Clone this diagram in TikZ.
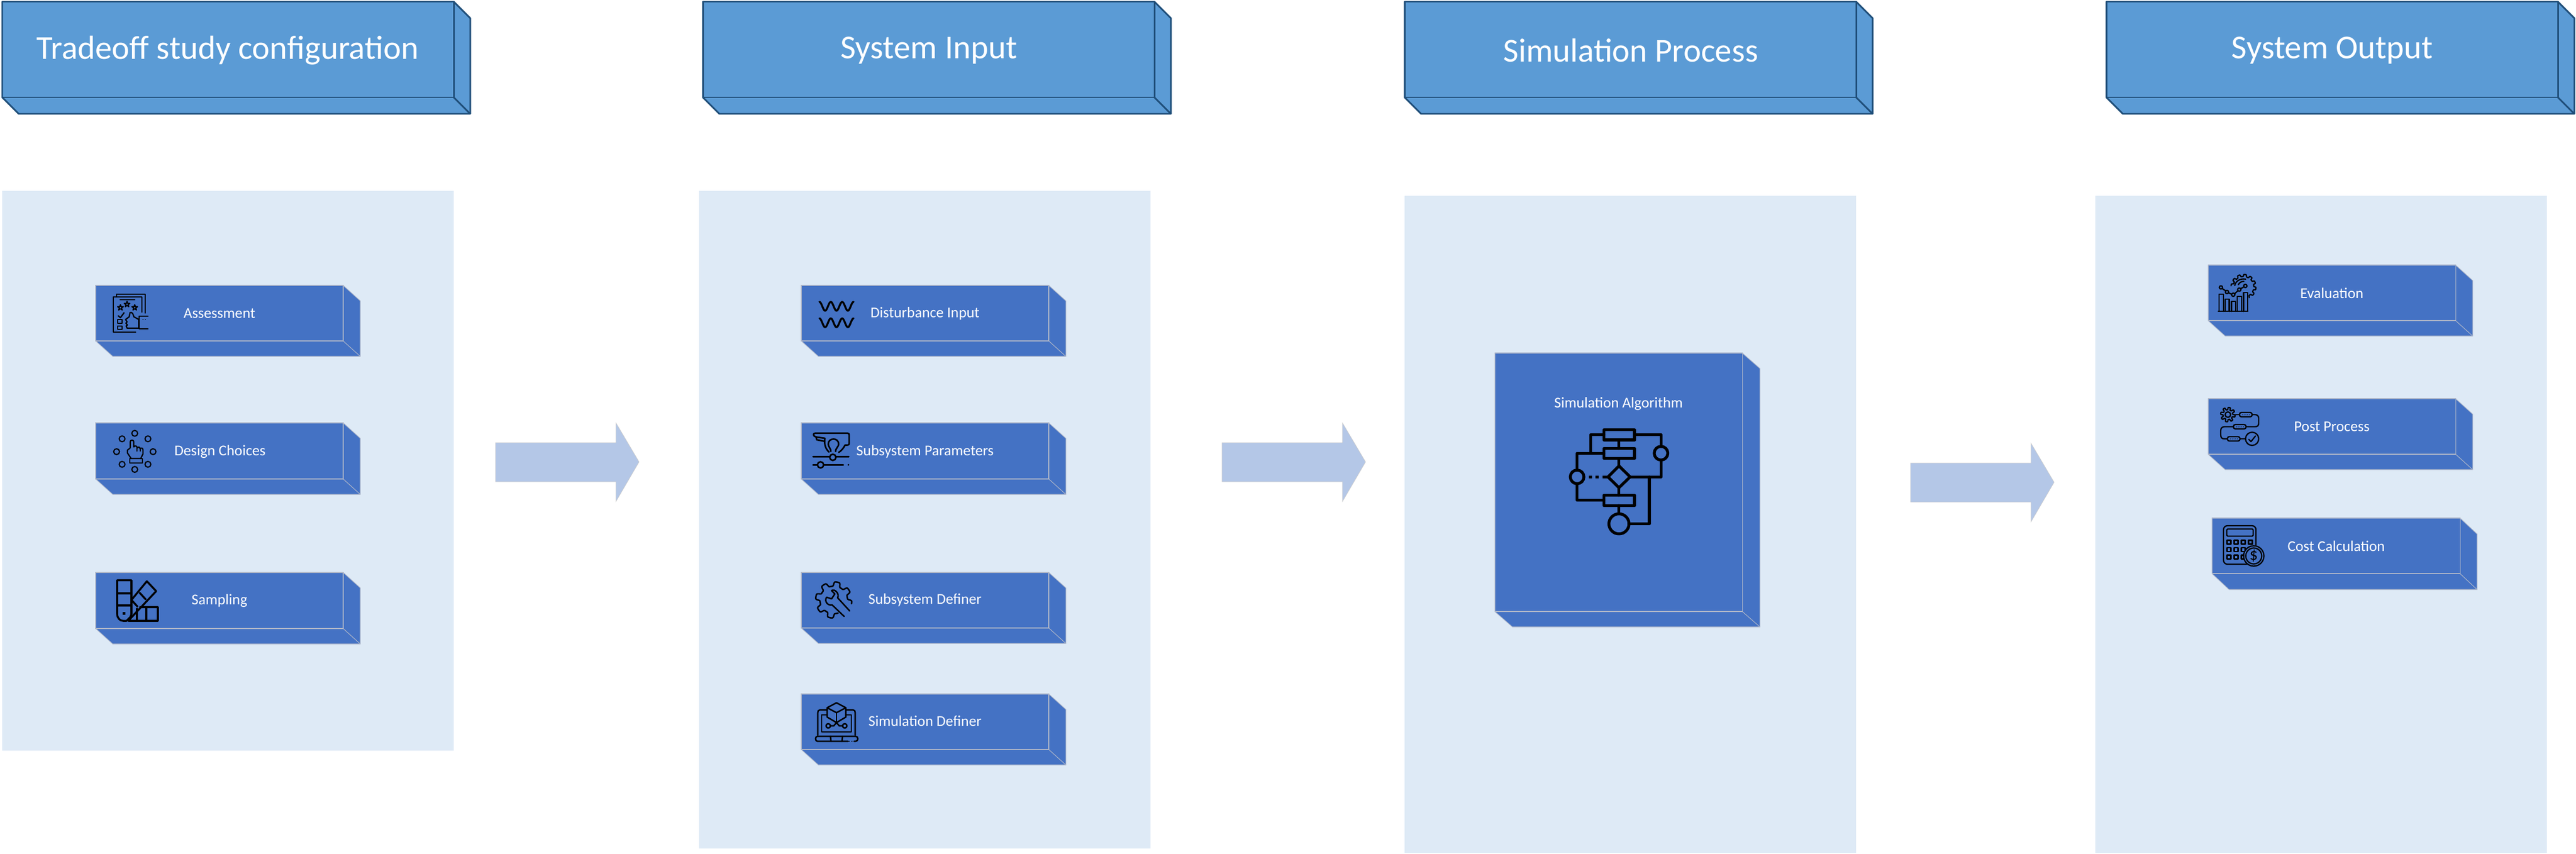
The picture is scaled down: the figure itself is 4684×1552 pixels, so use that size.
\documentclass[tikz,border=0pt]{standalone}
\usepackage{fontspec}
\setmainfont{Carlito}
\definecolor{headfill}{HTML}{5B9BD5}
\definecolor{headline}{HTML}{1F4E79}
\definecolor{boxfill}{HTML}{4472C4}
\definecolor{boxline}{HTML}{AEB6C8}
\definecolor{panelfill}{HTML}{DEEAF6}
\definecolor{arrowfill}{HTML}{B4C7E7}
\tikzset{
  headbox/.style={fill=headfill,draw=headline,line width=1.7pt,line join=round},
  itembox/.style={fill=boxfill,draw=boxline,line width=0.6pt,line join=miter},
  panel/.style={fill=panelfill,draw=none},
  blockarrow/.style={fill=arrowfill,draw=black!20,line width=0.4pt},
  headtext/.style={text=white,inner sep=0pt,font=\fontsize{34.6}{40}\selectfont,anchor=center},
  itemtext/.style={text=white,inner sep=0pt,font=\fontsize{15.5}{18}\selectfont,anchor=center},
  ic/.style={draw=black,line width=#1,line join=round,line cap=round},
  ic/.default=1.3pt,
}
% cuboid: style, x1,y1,x2,y2,dx,dy
\newcommand{\cuboid}[7]{%
  \draw[#1] (#2,#3) -- (#4,#3) -- ({#4+#6},{#3+#7}) -- ({#4+#6},{#5+#7}) -- ({#2+#6},{#5+#7}) -- (#2,#5) -- cycle;
  \draw[#1,fill=none] (#2,#3) rectangle (#4,#5);
  \draw[#1,fill=none] (#4,#5) -- ({#4+#6},{#5+#7});
}
% block arrow: x offset, y offset
\newcommand{\blockarr}[2]{%
  \draw[blockarrow,shift={(#1,#2)}] (901,805) -- (1120,805) -- (1120,769) -- (1162,840) -- (1120,912) -- (1120,876) -- (901,876) -- cycle;
}
% gear outline: cx,cy,r,amp,teeth,from,to
\newcommand{\gearline}[7]{%
  plot[domain=#6:#7,samples=220,variable=\t] ({#1+(#3+#4*tanh(3*sin(#5*\t)))*cos(\t)},{#2+(#3+#4*tanh(3*sin(#5*\t)))*sin(\t)})
}
\newcommand{\starline}[3]{%
  plot[domain=0:360,samples=11,variable=\t] ({#1+#3*(0.7+0.3*cos(5*\t))*cos(\t-90)},{#2+#3*(0.7+0.3*cos(5*\t))*sin(\t-90)})
}
\begin{document}
\begin{tikzpicture}[x=0.02cm,y=-0.02cm]
\useasboundingbox (0,0) rectangle (4684,1552);
\fill[white] (0,0) rectangle (4684,1552);

% panels
\fill[panel] (4,347) rectangle (825,1365);
\fill[panel] (1271,347) rectangle (2092,1543);
\fill[panel] (2554,356) rectangle (3375,1551);
\fill[panel] (3810,356) rectangle (4631,1551);

% headers
\cuboid{headbox}{4}{3}{825}{177}{30}{30}
\cuboid{headbox}{1278}{3}{2099}{177}{30}{30}
\cuboid{headbox}{2554}{3}{3375}{177}{30}{30}
\cuboid{headbox}{3830}{3}{4651}{177}{30}{30}
\node[headtext] (h1) at (414,92) {Tradeoff study configuration};
\node[headtext] (h2) at (1689,92) {System Input};
\node[headtext] (h3) at (2965,92) {Simulation Process};
\node[headtext] (h4) at (4241,92) {System Output};

% arrows
\blockarr{0}{0}
\blockarr{1321}{0}
\blockarr{2573}{37}

% item boxes
\cuboid{itembox}{174}{519}{624}{620}{31}{28}
\cuboid{itembox}{174}{769}{624}{871}{31}{28}
\cuboid{itembox}{174}{1041}{624}{1143}{31}{28}
\cuboid{itembox}{1457}{519}{1907}{620}{31}{28}
\cuboid{itembox}{1457}{769}{1907}{871}{31}{28}
\cuboid{itembox}{1457}{1041}{1907}{1142}{31}{28}
\cuboid{itembox}{1457}{1262}{1907}{1363}{31}{28}
\cuboid{itembox}{2718}{642}{3168}{1112}{32}{28}
\cuboid{itembox}{4015}{482}{4465}{583}{31}{28}
\cuboid{itembox}{4015}{725}{4465}{826}{31}{28}
\cuboid{itembox}{4022}{942}{4473}{1043}{31}{29}

\node[itemtext] (t1) at (399,570) {Assessment};
\node[itemtext] (t2) at (400,821) {Design Choices};
\node[itemtext] (t3) at (399,1092) {Sampling};
\node[itemtext] (t4) at (1682,570) {Disturbance Input};
\node[itemtext] (t5) at (1682,821) {Subsystem Parameters};
\node[itemtext] (t6) at (1682,1091) {Subsystem Definer};
\node[itemtext] (t7) at (1682,1311) {Simulation Definer};
\node[itemtext] (t8) at (2943,734) {Simulation Algorithm};
\node[itemtext] (t9) at (4240,533) {Evaluation};
\node[itemtext] (t10) at (4240,776) {Post Process};
\node[itemtext] (t11) at (4248,993) {Cost Calculation};

% ---- icon: assessment
\begin{scope}[shift={(195,526)},scale=1/3]
  \draw[ic=1.3pt] (50,42) -- (50,28) -- (207,28) -- (207,130);
  \draw[ic=1.3pt] (190,125) -- (190,42) -- (32,42) -- (32,235) -- (155,235);
  \draw[ic=1.3pt] (70,57) -- (150,57);
  \draw[ic=1.2pt] \starline{72}{100}{16} -- cycle;
  \draw[ic=1.2pt] \starline{108}{82}{16} -- cycle;
  \draw[ic=1.2pt] \starline{150}{100}{16} -- cycle;
  \draw[ic=1.3pt] (60,145) -- (72,155) -- (92,128);
  \draw[ic=1.3pt] (58,165) rectangle (80,185);
  \draw[ic=1.3pt] (58,200) rectangle (80,220);
  \draw[ic=1.3pt] (100,165) -- (120,150) -- (124,128) .. controls (135,122) and (142,135) .. (145,150) -- (172,165) -- (172,212) -- (108,212) -- (103,200) -- (110,195) -- (102,185) -- (108,178) -- cycle;
  \draw[ic=1.3pt] (222,147) -- (175,147) -- (175,215) -- (222,215);
  \fill (195,165) circle (2.5);
  \fill (208,165) circle (2.5);
\end{scope}

% ---- icon: design choices
\begin{scope}[shift={(190,772)},scale=1/3]
  \foreach \p/\q in {165/48,96/78,237/78,66/148,265/148,96/217,237/217,165/245}
    \draw[ic=1.2pt] (\p,\q) circle (16);
  \draw[ic=1.3pt] (140,128) -- (140,95) .. controls (140,82) and (160,82) .. (160,95) -- (160,122) .. controls (168,112) and (178,118) .. (178,128) .. controls (186,120) and (194,124) .. (194,132) .. controls (202,124) and (210,130) .. (210,140) -- (210,160) -- (198,185) -- (145,185) -- (125,155) -- (125,140) -- (140,128);
  \draw[ic=1.3pt] (138,185) rectangle (208,210);
  \draw[ic=1.3pt] (178,128) -- (178,145);
  \draw[ic=1.3pt] (194,132) -- (194,145);
\end{scope}

% ---- icon: sampling
\begin{scope}[shift={(0,2)},ic=2pt]
  \draw (213,1053) -- (239,1053) -- (239,1115) -- (237,1120) -- (230,1127) -- (224,1127) .. controls (218,1127) and (213,1122) .. (213,1114) -- cycle;
  \draw (213,1077) -- (239,1077);
  \draw (213,1099) -- (239,1099);
  \draw (239,1089) -- (267,1055) -- (284,1073) -- (234,1126);
  \draw (239,1089) -- (250,1101);
  \draw (254,1076) -- (265,1088);
  \draw (234,1127) -- (287,1127) -- (287,1102) -- (255,1102);
  \draw (249,1105) -- (249,1127);
  \draw (266,1102) -- (266,1127);
  \fill (223,1111) rectangle (228,1116);
\end{scope}

% ---- icon: disturbance
\begin{scope}[shift={(0,1)},ic=2pt]
  \draw plot[domain=0:1,samples=73,variable=\t] ({1490+62*\t},{556-8*cos(1080*\t)});
  \draw plot[domain=0:1,samples=73,variable=\t] ({1490+62*\t},{586-8*cos(1080*\t)});
\end{scope}

% ---- icon: subsystem parameters
\begin{scope}[shift={(1470,777)},scale=1/3]
  \draw[ic=1.6pt] (112,135) .. controls (90,115) and (85,85) .. (90,60) -- (42,53) .. controls (25,50) and (22,32) .. (38,32) -- (212,32) .. controls (220,32) and (222,36) .. (222,42) -- (222,90) .. controls (222,95) and (218,97) .. (212,97) -- (200,97) .. controls (190,115) and (180,128) .. (165,137);
  \draw[ic=1.6pt] (42,53) -- (45,68) -- (85,76);
  \draw[ic=1.6pt] (122,132) .. controls (125,122) and (108,105) .. (108,92) .. controls (108,55) and (165,55) .. (165,92) .. controls (165,105) and (145,120) .. (148,132);
  \draw[ic=1.6pt] (25,160) -- (115,160);
  \draw[ic=1.6pt] (150,160) -- (220,160);
  \draw[ic=1.6pt] (133,164) circle (17);
  \draw[ic=1.6pt] (25,205) -- (48,205);
  \draw[ic=1.6pt] (66,205) circle (17);
  \draw[ic=1.6pt] (84,205) -- (190,205);
  \fill (218,205) circle (5);
\end{scope}

% ---- icon: subsystem definer
\begin{scope}[shift={(0,2)},ic=1.5pt]
  \draw \gearline{1516}{1089}{29}{4}{8}{72}{372};
  \draw (1545,1109) -- (1523,1085) .. controls (1527,1078) and (1518,1068) .. (1512,1072) -- (1518,1078) -- (1512,1087) -- (1503,1084) .. controls (1498,1092) and (1506,1100) .. (1513,1098) -- (1535,1119);
\end{scope}

% ---- icon: simulation definer
\begin{scope}[shift={(0,2)},ic=1.5pt]
  \draw (1504,1289) -- (1491,1289) .. controls (1488,1289) and (1487,1291) .. (1487,1294) -- (1487,1335);
  \draw (1538,1289) -- (1551,1289) .. controls (1554,1289) and (1555,1291) .. (1555,1294) -- (1555,1335);
  \draw (1504,1298) -- (1494,1298) -- (1494,1329) -- (1548,1329) -- (1548,1298) -- (1538,1298);
  \draw (1542,1346) -- (1486,1346) .. controls (1482,1346) and (1482,1337) .. (1486,1337) -- (1556,1337) .. controls (1561,1337) and (1561,1346) .. (1556,1346) -- (1553,1346);
  \draw (1510,1337) -- (1511,1346);
  \draw (1532,1337) -- (1531,1346);
  \fill (1544,1346) circle (1.2);
  \fill (1549,1346) circle (1.2);
  \draw (1521,1276) -- (1538,1285) -- (1538,1302) -- (1521,1312) -- (1504,1302) -- (1504,1285) -- cycle;
  \draw (1504,1285) -- (1521,1294) -- (1538,1285);
  \draw (1521,1294) -- (1521,1312);
  \draw (1506,1318) circle (4);
  \draw (1536,1318) circle (4);
  \draw (1510,1318) -- (1516,1318) -- (1521,1312) -- (1526,1318) -- (1532,1318);
\end{scope}

% ---- icon: simulation algorithm
\begin{scope}[shift={(2680,621)},scale=1/2.904,ic=3pt]
  \draw (687,467) rectangle (848,520);
  \draw (687,565) rectangle (848,618);
  \draw (687,812) rectangle (848,866);
  \draw (988,590) circle (36);
  \draw (545,715) circle (36);
  \draw (766,963) circle (53);
  \draw (766,657) -- (825,715) -- (766,772) -- (708,715) -- cycle;
  \draw (766,520) -- (766,565);
  \draw (766,618) -- (766,657);
  \draw (766,772) -- (766,812);
  \draw (766,866) -- (766,910);
  \draw (687,492) -- (617,492) -- (617,590);
  \draw (687,590) -- (545,590) -- (545,679);
  \draw (545,751) -- (545,838) -- (687,838);
  \draw (848,492) -- (988,492) -- (988,554);
  \draw (988,626) -- (988,715) -- (825,715);
  \draw (926,715) -- (926,963) -- (818,963);
  \draw[line cap=butt] (607,715) -- (625,715);
  \draw[line cap=butt] (642,715) -- (660,715);
  \draw[line cap=butt] (678,715) -- (708,715);
\end{scope}

% ---- icon: evaluation
\begin{scope}[shift={(4030,491)},scale=1/3,ic=1.3pt]
  \draw (10,226) -- (172,226);
  \draw (15,226) -- (15,132) -- (38,132) -- (38,226);
  \draw (48,226) -- (48,158) -- (70,158) -- (70,226);
  \draw (82,226) -- (82,172) -- (104,172) -- (104,226);
  \draw (114,226) -- (114,145) -- (137,145) -- (137,226);
  \draw (148,226) -- (148,124) -- (170,124) -- (170,226);
  \draw (25,95) circle (9);
  \draw (58,120) circle (9);
  \draw (92,135) circle (9);
  \draw (125,107) circle (9);
  \draw (158,87) circle (9);
  \draw (32,101) -- (51,114);
  \draw (66,124) -- (83,132);
  \draw (100,129) -- (118,113);
  \draw (133,102) -- (150,92);
  \draw \gearline{148}{92}{62}{6}{12}{-175}{62};
  \draw (100,85) .. controls (105,60) and (130,45) .. (160,50);
  \draw (120,80) .. controls (125,70) and (135,62) .. (150,62);
\end{scope}

% ---- icon: post process
\begin{scope}[shift={(0,1)},ic=1.3pt]
  \draw \gearline{4051}{753}{11}{2.2}{8}{0}{360};
  \draw (4051,753) circle (5);
  \draw[rounded corners=2] (4072,749) rectangle (4095,757);
  \draw[rounded corners=2] (4061,771) rectangle (4084,779);
  \draw[rounded corners=2] (4050,793) rectangle (4073,801);
  \draw (4065,753) -- (4072,753);
  \draw (4095,753) -- (4100,753) .. controls (4105,753) and (4107,756) .. (4107,760) -- (4107,768) .. controls (4107,773) and (4105,775) .. (4100,775) -- (4084,775);
  \draw (4061,775) -- (4045,775) .. controls (4040,775) and (4038,778) .. (4038,782) -- (4038,790) .. controls (4038,795) and (4040,797) .. (4045,797) -- (4050,797);
  \draw (4073,797) -- (4083,797);
  \draw (4095,797) circle (12);
  \draw (4089,798) -- (4093,802) -- (4101,792);
  \foreach \a in {4078,4082,4086,4090} \fill (\a,753) circle (0.8);
  \foreach \a in {4067,4071,4075,4079} \fill (\a,775) circle (0.8);
  \foreach \a in {4056,4060,4064,4068} \fill (\a,797) circle (0.8);
\end{scope}

% ---- icon: cost calculation
\begin{scope}[shift={(0,1)},ic=1.3pt]
  \draw[rounded corners=4] (4102,990) -- (4102,955) -- (4043,955) -- (4043,1025) -- (4085,1025);
  \draw[rounded corners=1] (4049,961) rectangle (4097,974);
  \foreach \b in {985,998.5,1012}
    \foreach \a in {4053,4066,4079}
      \draw (\a-3.5,\b-3.5) rectangle (\a+3.5,\b+3.5);
  \draw (4088.5,981.5) rectangle (4095.5,988.5);
  \fill[boxfill] (4098,1010) circle (19);
  \draw (4098,1010) circle (18.5);
  \draw (4098,1010) circle (14.5);
  \node[text=black,inner sep=0pt,font=\fontsize{17}{20}\selectfont] (dollar) at (4098,1010) {\$};
\end{scope}
\end{tikzpicture}
\end{document}
